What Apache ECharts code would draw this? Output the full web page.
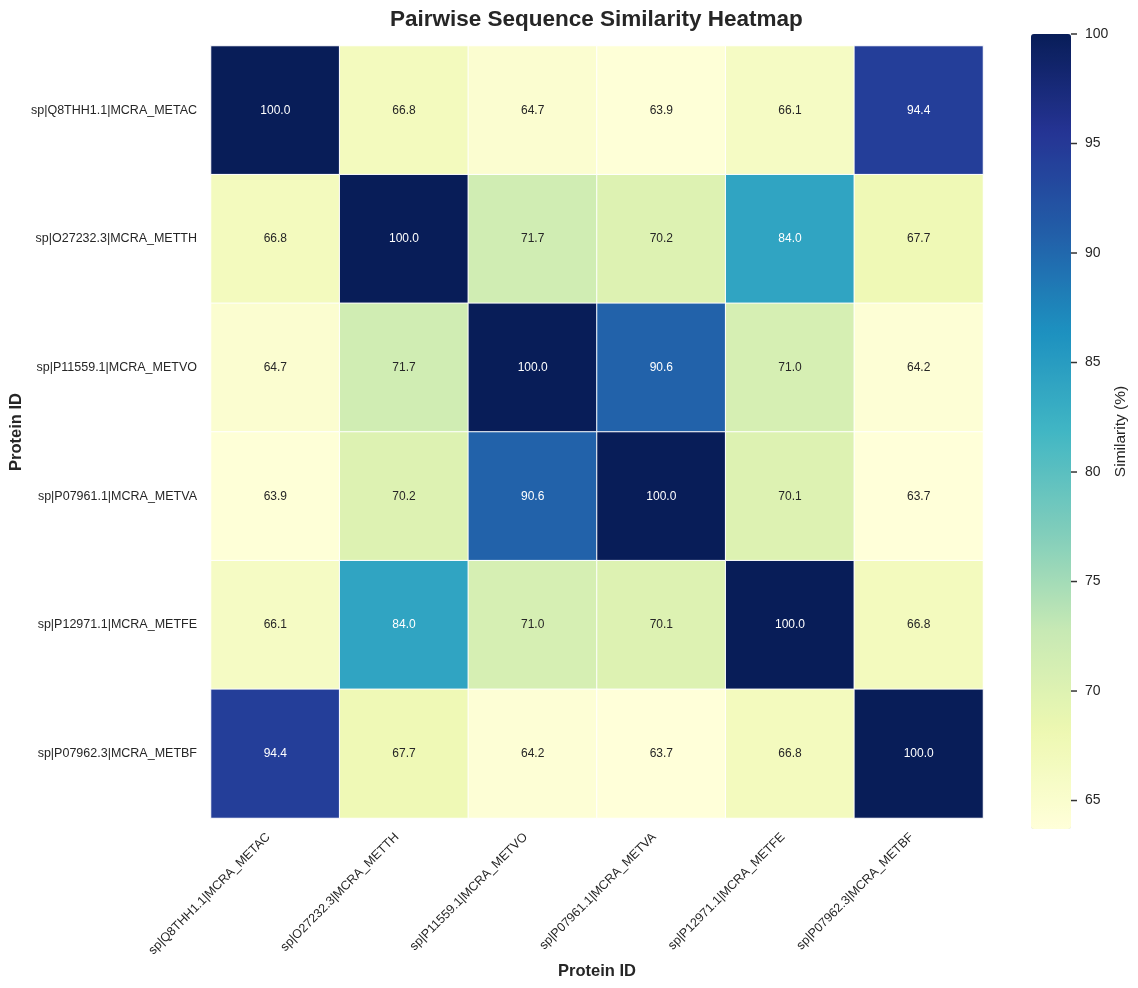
<!DOCTYPE html>
<html>
<head>
<meta charset="utf-8">
<style>
  html, body { margin: 0; padding: 0; background: #fff; }
  #chart { width: 1138px; height: 988px; }
</style>
<script src="https://cdn.jsdelivr.net/npm/echarts@6/dist/echarts.min.js"></script>
</head>
<body>
<div id="chart"></div>
<script>
// protein ids, same order on both axes
const proteins = [
  "sp|Q8THH1.1|MCRA_METAC",
  "sp|O27232.3|MCRA_METTH",
  "sp|P11559.1|MCRA_METVO",
  "sp|P07961.1|MCRA_METVA",
  "sp|P12971.1|MCRA_METFE",
  "sp|P07962.3|MCRA_METBF"
]

// similarity matrix, one row per protein (top to bottom)
const rowMETAC = [100.0, 66.8, 64.7, 63.9, 66.1, 94.4]
const rowMETTH = [66.8, 100.0, 71.7, 70.2, 84.0, 67.7]
const rowMETVO = [64.7, 71.7, 100.0, 90.6, 71.0, 64.2]
const rowMETVA = [63.9, 70.2, 90.6, 100.0, 70.1, 63.7]
const rowMETFE = [66.1, 84.0, 71.0, 70.1, 100.0, 66.8]
const rowMETBF = [94.4, 67.7, 64.2, 63.7, 66.8, 100.0]
const rows = [rowMETAC, rowMETTH, rowMETVO, rowMETVA, rowMETFE, rowMETBF]

const colorMin = 63.7
const colorMax = 100
const colorTicks = [65, 70, 75, 80, 85, 90, 95, 100]

// YlGnBu
const ylgnbu = ["#ffffd9", "#edf8b1", "#c7e9b4", "#7fcdbb", "#41b6c4", "#1d91c0", "#225ea8", "#253494", "#081d58"]

const cells = []
rows.forEach((row, y) => {
  row.forEach((v, x) => {
    cells.push({
      value: [x, y, v],
      // white text on dark cells
      label: { color: v > 78 ? "#fff" : "#262626" }
    })
  })
})

const font = "Liberation Sans, Arial, sans-serif"

const chart = echarts.init(document.getElementById("chart"))
chart.setOption({
  backgroundColor: "#fff",
  textStyle: { fontFamily: font },
  title: {
    text: "Pairwise Sequence Similarity Heatmap",
    left: 390,
    top: 8,
    padding: 0,
    textStyle: { fontSize: 22.5, fontWeight: "bold", color: "#262626", fontFamily: font }
  },
  grid: [
    { left: 211, top: 46, width: 772, height: 772, outerBoundsMode: "none", containLabel: false },
    { left: 1031, top: 34, width: 40, height: 795, outerBoundsMode: "none", containLabel: false }
  ],
  xAxis: [
    {
      type: "category",
      data: proteins,
      gridIndex: 0,
      position: "bottom",
      axisLine: { show: false },
      axisTick: { show: false },
      splitLine: { show: false },
      axisLabel: { rotate: 45, interval: 0, fontSize: 12.5, color: "#262626", margin: 10, padding: [0, 10, 0, 0] },
      name: "Protein ID",
      nameLocation: "middle",
      nameGap: 145,
      nameMoveOverlap: false,
      nameTextStyle: { fontSize: 16.5, fontWeight: "bold", color: "#262626" }
    },
    {
      type: "value",
      gridIndex: 1,
      min: 0,
      max: 1,
      show: false
    }
  ],
  yAxis: [
    {
      type: "category",
      data: proteins,
      inverse: true,
      gridIndex: 0,
      axisLine: { show: false },
      axisTick: { show: false },
      splitLine: { show: false },
      axisLabel: { interval: 0, fontSize: 12.5, color: "#262626", margin: 14 },
      name: "Protein ID",
      nameLocation: "middle",
      nameGap: 186,
      nameMoveOverlap: false,
      nameTextStyle: { fontSize: 16.5, fontWeight: "bold", color: "#262626" }
    },
    {
      type: "value",
      gridIndex: 1,
      position: "right",
      min: colorMin,
      max: colorMax,
      axisLine: { show: false },
      splitLine: { show: false },
      axisTick: { show: false },
      axisLabel: { customValues: colorTicks, fontSize: 14, color: "#262626", margin: 14 },
      name: "Similarity (%)",
      nameLocation: "middle",
      nameGap: 42,
      nameTextStyle: { fontSize: 15.5, color: "#262626" }
    }
  ],
  visualMap: {
    type: "continuous",
    seriesIndex: 0,
    min: colorMin,
    max: colorMax,
    calculable: false,
    hoverLink: false,
    orient: "vertical",
    left: 1031,
    top: 34,
    padding: 0,
    itemWidth: 40,
    itemHeight: 795,
    text: ["", ""],
    inRange: { color: ylgnbu }
  },
  series: [
    {
      type: "heatmap",
      xAxisIndex: 0,
      yAxisIndex: 0,
      data: cells,
      itemStyle: { borderColor: "#fff", borderWidth: 1 },
      label: {
        show: true,
        fontSize: 12,
        formatter: p => p.value[2].toFixed(1)
      }
    },
    {
      // colorbar tick marks, placed through the colorbar axis
      type: "custom",
      xAxisIndex: 1,
      yAxisIndex: 1,
      silent: true,
      z: 10,
      data: colorTicks.map(v => [1, v]),
      renderItem: (params, api) => {
        const p = api.coord([1, api.value(1)])
        return {
          type: "line",
          shape: { x1: p[0], y1: p[1], x2: p[0] + 6, y2: p[1] },
          style: { stroke: "#333", lineWidth: 1.5 }
        }
      }
    }
  ]
})
</script>
</body>
</html>
